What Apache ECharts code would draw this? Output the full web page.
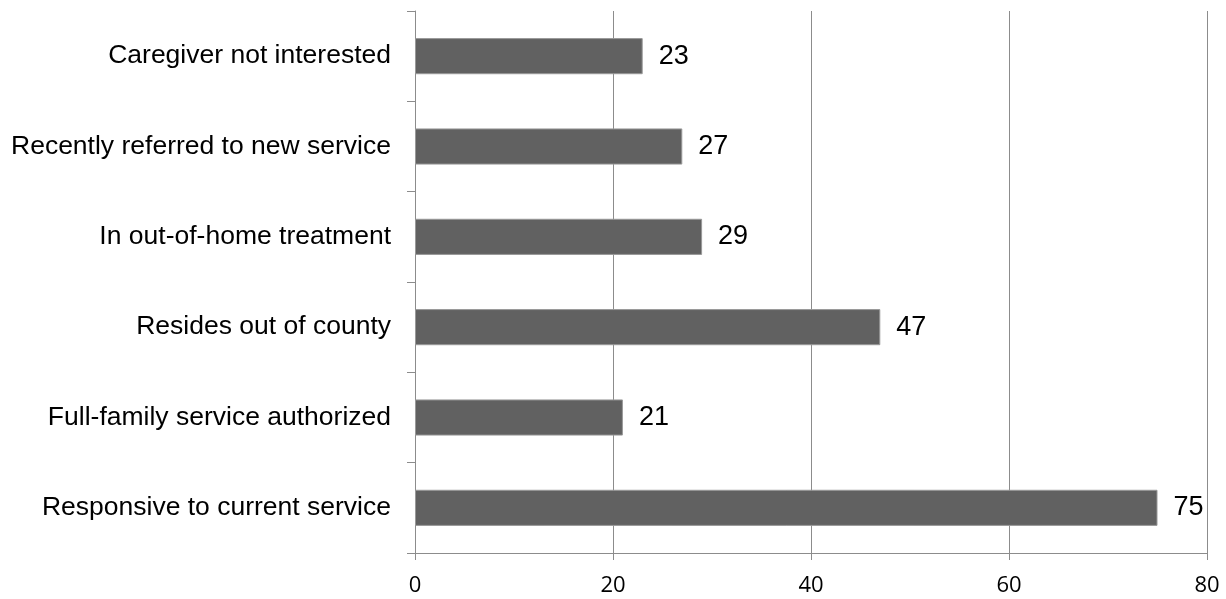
<!DOCTYPE html>
<html>
<head>
<meta charset="utf-8">
<script src="https://cdn.jsdelivr.net/npm/echarts@6/dist/echarts.min.js"></script>
<style>
  html, body { margin: 0; padding: 0; background: #ffffff; }
  #chart { width: 1226px; height: 599px; }
</style>
</head>
<body>
<div id="chart"></div>
<script>
// Reasons, listed top to bottom
const categories = [
  'Caregiver not interested',
  'Recently referred to new service',
  'In out-of-home treatment',
  'Resides out of county',
  'Full-family service authorized',
  'Responsive to current service'
];
const counts = [23, 27, 29, 47, 21, 75];
const xTicks = [0, 20, 40, 60, 80];

const chart = echarts.init(document.getElementById('chart'), null, { renderer: 'canvas' });
const axisGray = '#8c8c8c';

chart.setOption({
  animation: false,
  grid: { left: 415, right: 19, top: 11, bottom: 46, containLabel: false },
  xAxis: {
    type: 'value',
    min: xTicks[0],
    max: xTicks[xTicks.length - 1],
    interval: xTicks[1] - xTicks[0],
    axisLine: { show: true, lineStyle: { color: axisGray, width: 1 } },
    axisTick: { show: true, length: 7, lineStyle: { color: axisGray } },
    splitLine: { show: true, lineStyle: { color: axisGray, width: 1 } },
    axisLabel: { color: '#000', fontFamily: 'Open Sans', fontSize: 22, margin: 22 }
  },
  yAxis: {
    type: 'category',
    inverse: true,
    data: categories,
    axisLine: { show: true, lineStyle: { color: axisGray, width: 1 } },
    axisTick: { show: true, length: 8, alignWithLabel: false, lineStyle: { color: axisGray } },
    axisLabel: { color: '#000', fontFamily: 'Liberation Sans', fontSize: 26.5, margin: 24 }
  },
  series: [{
    type: 'bar',
    data: counts,
    barCategoryGap: '60%',
    itemStyle: { color: '#616161', borderColor: '#999999', borderWidth: 1 },
    label: {
      show: true,
      position: 'right',
      distance: 16,
      color: '#000',
      fontFamily: 'Liberation Sans',
      fontSize: 27
    }
  }]
});
</script>
</body>
</html>
